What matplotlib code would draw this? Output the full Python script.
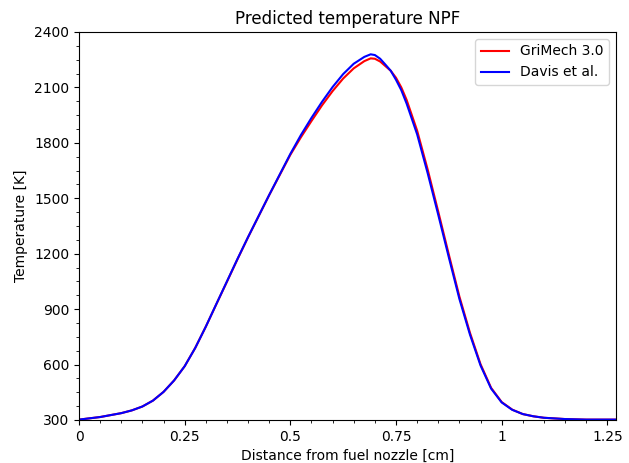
import numpy as np
import matplotlib
matplotlib.use("Agg")
import matplotlib.pyplot as plt
from matplotlib.ticker import MultipleLocator, FormatStrFormatter

# distance from fuel nozzle [cm]
x_cm = [0, 0.05, 0.1, 0.125, 0.15, 0.175, 0.2, 0.225, 0.25, 0.275, 0.3, 0.325,
        0.35, 0.375, 0.4, 0.45, 0.5, 0.525, 0.55, 0.575, 0.6, 0.625, 0.65,
        0.675, 0.69, 0.7, 0.7125, 0.725, 0.7375, 0.75, 0.7625, 0.775, 0.8,
        0.825, 0.85, 0.875, 0.9, 0.925, 0.95, 0.975, 1.0, 1.025, 1.05, 1.075,
        1.1, 1.15, 1.2, 1.27]

# temperature [K]
T_grimech = [302, 316, 337, 352, 373, 405, 452, 514, 591, 690, 805, 927,
             1048, 1170, 1289, 1517, 1735, 1830, 1918, 2003, 2080, 2148, 2203,
             2242, 2257, 2255, 2240, 2215, 2190, 2152, 2100, 2033, 1866,
             1655, 1427, 1195, 968, 772, 602, 474, 397, 356, 332, 320,
             312, 305, 302, 302]
T_davis = [302, 316, 337, 352, 373, 405, 452, 514, 591, 690, 805, 928,
           1050, 1172, 1290, 1518, 1740, 1842, 1935, 2022, 2102, 2172, 2228,
           2265, 2279, 2275, 2255, 2223, 2190, 2141, 2085, 2013, 1846,
           1635, 1410, 1180, 955, 762, 595, 470, 395, 355, 332, 320,
           312, 305, 302, 302]

fig = plt.figure(figsize=(6.29, 4.63), dpi=100)
ax = fig.add_axes([0.1256, 0.0929, 0.8534, 0.8381])

ax.plot(x_cm, T_grimech, color="r", lw=1.5, label="GriMech 3.0")
ax.plot(x_cm, T_davis, color="b", lw=1.5, label="Davis et al.")

ax.set_xlim(0, 1.27)
ax.set_ylim(300, 2400)
ax.xaxis.set_major_locator(MultipleLocator(0.25))
ax.xaxis.set_minor_locator(MultipleLocator(0.05))
ax.xaxis.set_major_formatter(FormatStrFormatter("%g"))
ax.yaxis.set_major_locator(MultipleLocator(300))
ax.yaxis.set_minor_locator(MultipleLocator(75))

ax.set_xlabel("Distance from fuel nozzle [cm]")
ax.set_ylabel("Temperature [K]")
ax.set_title("Predicted temperature NPF")
ax.legend(loc="upper right")

fig.savefig("out.png", dpi=100)
